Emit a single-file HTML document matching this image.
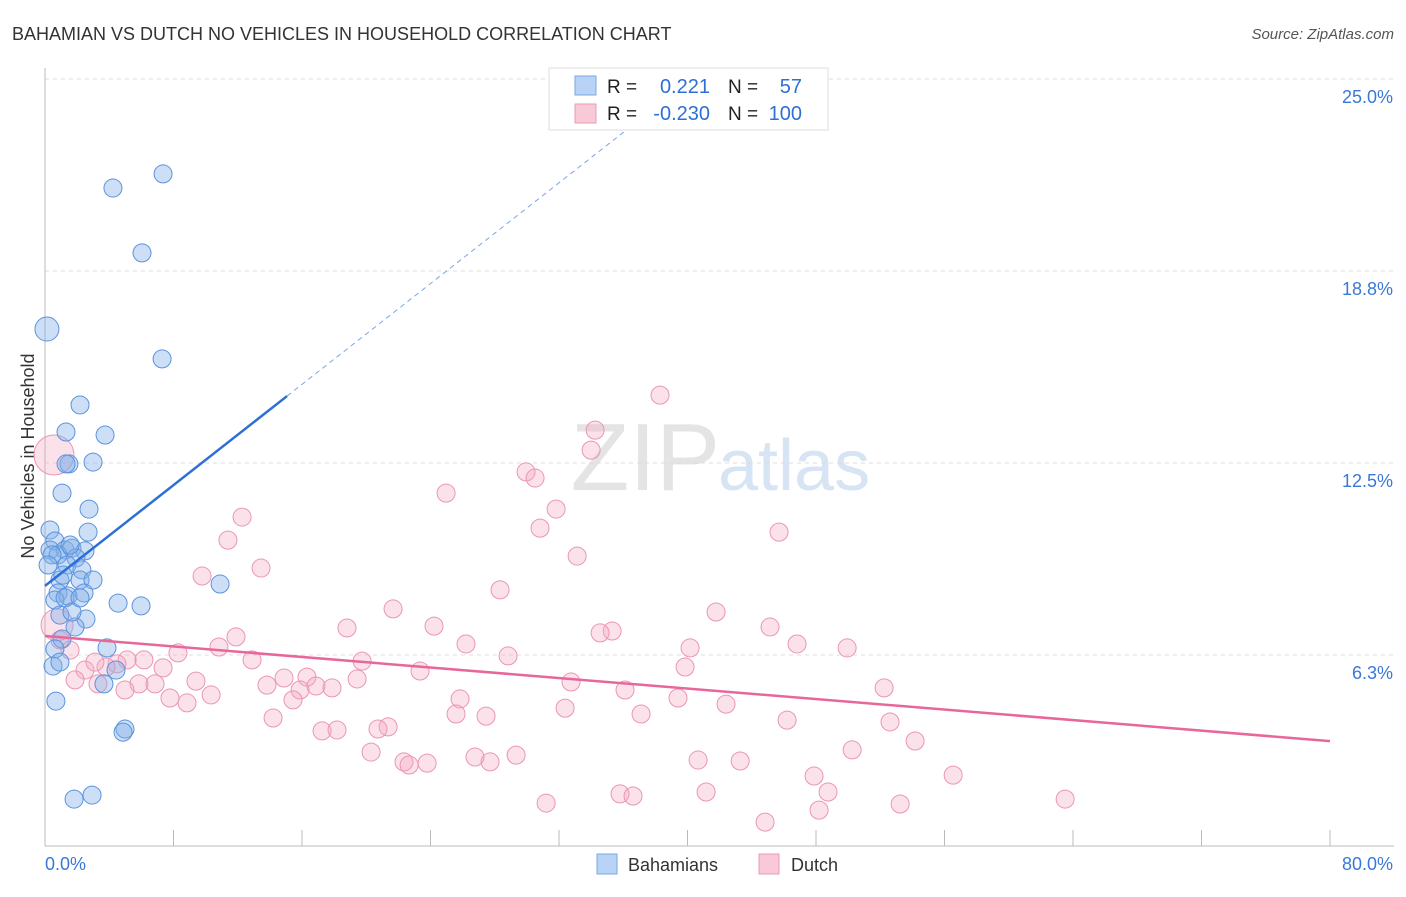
<!DOCTYPE html>
<html><head><meta charset="utf-8"><style>
body{margin:0;background:#fff;font-family:"Liberation Sans",sans-serif;}
svg text{font-family:"Liberation Sans",sans-serif;}
</style></head><body>
<svg id="chart" width="1406" height="892">
<text x="12" y="40" font-size="18" fill="#333">BAHAMIAN VS DUTCH NO VEHICLES IN HOUSEHOLD CORRELATION CHART</text>
<text x="1394" y="39" font-size="15" fill="#555" font-style="italic" text-anchor="end">Source: ZipAtlas.com</text>
<text x="720" y="490" font-size="96" fill="#e4e4e4" text-anchor="end" font-family="Liberation Serif">ZIP</text>
<text x="718" y="490" font-size="72" fill="#d6e4f4">atlas</text>
<text transform="translate(34,456) rotate(-90)" font-size="18" fill="#333" text-anchor="middle">No Vehicles in Household</text>
<g id="grid"></g><g id="axes"></g><g id="pink"></g><g id="blue"></g><g id="lines"></g>
<g>
<rect x="549" y="68" width="279" height="62" fill="#fff" stroke="#ddd"/>
<rect x="575" y="76" width="21" height="19" fill="#b8d3f5" stroke="#7aaae6"/>
<rect x="575" y="104" width="21" height="19" fill="#f9c9d8" stroke="#eb9ab5"/>
<text x="607" y="93" font-size="19" fill="#222">R =</text><text x="710" y="93" font-size="20" fill="#2e6fd6" text-anchor="end">0.221</text>
<text x="728" y="93" font-size="19" fill="#222">N =</text><text x="802" y="93" font-size="20" fill="#2e6fd6" text-anchor="end">57</text>
<text x="607" y="120" font-size="19" fill="#222">R =</text><text x="710" y="120" font-size="20" fill="#2e6fd6" text-anchor="end">-0.230</text>
<text x="728" y="120" font-size="19" fill="#222">N =</text><text x="802" y="120" font-size="20" fill="#2e6fd6" text-anchor="end">100</text>
</g>
<g>
<rect x="597" y="854" width="20" height="20" fill="#b8d3f5" stroke="#7aaae6"/>
<text x="628" y="871" font-size="18" fill="#333">Bahamians</text>
<rect x="759" y="854" width="20" height="20" fill="#f9c9d8" stroke="#eb9ab5"/>
<text x="791" y="871" font-size="18" fill="#333">Dutch</text>
</g>
</svg>
<script>
const blueX=[4.23,7.35,6.04,0.12,7.29,2.18,1.31,3.74,1.49,2.99,1.06,2.74,2.68,0.31,0.62,0.31,1.25,1.68,2.49,0.81,1.93,1.37,2.30,0.93,2.18,2.99,10.90,0.81,1.43,2.43,0.62,1.25,4.55,5.98,2.55,1.87,1.06,0.62,3.86,0.50,4.42,0.93,3.67,4.98,4.86,0.68,1.81,2.93,0.44,0.93,1.68,1.12,2.18,1.56,0.19,1.31];
const blueY=[21.45,21.91,19.34,16.86,15.89,14.39,13.51,13.41,12.47,12.53,11.52,11.00,10.25,10.32,9.96,9.67,9.67,9.73,9.64,9.51,9.41,9.18,9.02,8.69,8.69,8.69,8.56,8.27,8.17,8.27,8.04,8.11,7.94,7.85,7.42,7.16,6.77,6.45,6.48,5.89,5.76,6.02,5.31,3.84,3.74,4.75,1.56,1.69,9.51,7.55,7.65,8.85,8.11,9.83,9.18,12.47];
const pinkX=[38.29,34.25,34.00,29.95,30.51,24.97,31.82,12.27,30.82,11.39,45.70,33.13,13.45,9.78,28.33,21.67,41.78,24.22,18.80,35.31,34.56,45.14,11.89,26.21,40.16,46.82,49.94,10.83,28.83,8.28,6.16,19.74,39.85,5.11,4.48,3.80,7.35,12.89,23.35,14.88,16.31,9.40,32.75,5.85,6.85,13.82,15.88,16.87,19.43,3.30,17.87,52.24,36.11,25.84,39.41,42.40,7.78,10.34,8.84,15.44,32.38,25.59,27.46,37.11,14.20,21.36,20.73,17.25,18.18,46.20,52.61,20.30,26.77,29.33,50.25,54.17,22.35,22.67,23.79,27.71,40.66,43.28,47.88,56.54,41.16,48.75,35.80,36.61,31.20,53.24,63.51,48.19,44.83,1.56,0.93,2.49,3.11,4.98,1.87];
const pinkY=[14.71,13.57,12.92,12.21,12.01,11.52,11.00,10.74,10.38,9.99,10.25,9.47,9.08,8.82,8.37,7.75,7.65,7.19,7.13,7.03,6.97,7.16,6.84,6.61,6.48,6.61,6.48,6.51,6.22,6.32,6.09,6.05,5.86,6.09,5.96,5.86,5.83,6.09,5.73,5.50,5.53,5.40,5.37,5.31,5.31,5.27,5.11,5.24,5.47,5.31,5.18,5.18,5.11,4.82,4.85,4.65,4.85,4.95,4.69,4.79,4.52,4.33,4.26,4.33,4.20,3.91,3.84,3.78,3.81,4.13,4.07,3.09,2.93,2.99,3.16,3.45,2.77,2.67,2.73,2.77,2.83,2.80,2.31,2.34,1.79,1.79,1.73,1.66,1.43,1.40,1.56,1.20,0.81,6.41,6.74,5.76,6.02,5.11,5.44];
const bigPinkX=[0.56,0.75];
const bigPinkY=[12.76,7.23];
const yTicks=[25.0,18.8,12.5,6.3];
const yTickVals=[25,18.75,12.5,6.25];
const blueFit=[8.5,0.41];   // intercept, slope
const pinkFit=[6.87,-0.0428];
const NS="http://www.w3.org/2000/svg";
const sx=v=>45+v*1285/80, sy=v=>847-v*30.72;
function mk(tag,parent,attrs){const e=document.createElementNS(NS,tag);for(const k in attrs)e.setAttribute(k,attrs[k]);document.getElementById(parent).appendChild(e);return e;}
yTickVals.forEach((v,i)=>{
 const l=mk('line','grid',{x1:45,x2:1394,y1:sy(v),y2:sy(v),stroke:'#ddd','stroke-dasharray':'4,4'});
 
 
 const t=mk('text','grid',{x:1393,y:sy(v)+24,'font-size':18,fill:'#3a78d8','text-anchor':'end'});
 t.textContent=yTicks[i].toFixed(1)+'%';
 
 
});
let ax=mk('line','axes',{x1:45,x2:45,y1:68,y2:846,stroke:'#bbb'});


ax=mk('line','axes',{x1:45,x2:1394,y1:846,y2:846,stroke:'#bbb'});


for(let k=1;k<=10;k++){const t=mk('line','axes',{x1:sx(k*8),x2:sx(k*8),y1:830,y2:846,stroke:'#bbb'});
 
 }
let xl=mk('text','axes',{x:45,y:870,'font-size':18,fill:'#3a78d8'});xl.textContent='0.0%';


xl=mk('text','axes',{x:1393,y:870,'font-size':18,fill:'#3a78d8','text-anchor':'end'});xl.textContent='80.0%';


pinkX.forEach((x,i)=>{const c=mk('circle','pink',{cx:sx(x),cy:sy(pinkY[i]),r:9,fill:'rgba(244,168,194,0.35)',stroke:'#eb96b3','stroke-width':1});
 
 });
bigPinkX.forEach((x,i)=>{const c=mk('circle','pink',{cx:sx(x),cy:sy(bigPinkY[i]),r:i?16:20,fill:'rgba(244,168,194,0.35)',stroke:'#eb96b3'});
 
 });
blueX.forEach((x,i)=>{const c=mk('circle','blue',{cx:sx(x),cy:sy(blueY[i]),r:i==3?12:9,fill:'rgba(130,175,232,0.4)',stroke:'#5b93de','stroke-width':1});
 
 });
let ln=mk('line','lines',{x1:sx(0),y1:sy(pinkFit[0]),x2:sx(80),y2:sy(pinkFit[0]+pinkFit[1]*80),stroke:'#e8679a','stroke-width':2.5});


ln=mk('line','lines',{x1:sx(0),y1:sy(blueFit[0]),x2:sx(15.07),y2:sy(blueFit[0]+blueFit[1]*15.07),stroke:'#2d6fd6','stroke-width':2.5});


ln=mk('line','lines',{x1:sx(15.07),y1:sy(blueFit[0]+blueFit[1]*15.07),x2:sx(36.1),y2:sy(blueFit[0]+blueFit[1]*36.1),stroke:'#7aa6e6','stroke-width':1,'stroke-dasharray':'5,4'});


</script>
</body></html>
